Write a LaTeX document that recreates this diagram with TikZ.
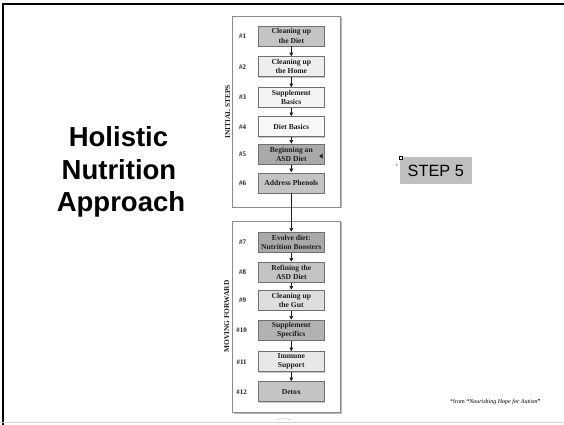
\documentclass[tikz,border=0pt]{standalone}
\usepackage{fontspec}
\setmainfont{Liberation Serif}
\newfontfamily\arial{Liberation Sans}
\usetikzlibrary{arrows.meta,shadows,calc}

\definecolor{frameline}{HTML}{000000}
\definecolor{panelline}{HTML}{8C8C8C}
\definecolor{stepline}{HTML}{707070}
\definecolor{steptext}{HTML}{1E1E1E}
\definecolor{toneA}{HTML}{A9A9A9}
\definecolor{toneB}{HTML}{B2B2B2}
\definecolor{toneC}{HTML}{C4C4C4}
\definecolor{toneD}{HTML}{DEDEDE}
\definecolor{toneE}{HTML}{E8E8E8}
\definecolor{toneF}{HTML}{EEEEEE}
\definecolor{toneG}{HTML}{F4F4F4}
\definecolor{stepfive}{HTML}{BFBFBF}

\tikzset{
  panel/.style={draw=panelline, line width=0.8pt, fill=white,
    drop shadow={shadow xshift=1.2pt, shadow yshift=-1.2pt, fill=gray!70, opacity=0.8}},
  stepbox/.style={draw=stepline, line width=0.6pt, minimum width=65.3pt,
    minimum height=20pt, inner sep=0pt, align=center, text=steptext,
    font=\bfseries\fontsize{7.6}{9.2}\selectfont,
    drop shadow={shadow xshift=0.8pt, shadow yshift=-0.8pt, fill=gray!60, opacity=0.7}},
  numlabel/.style={font=\bfseries\fontsize{7}{8}\selectfont, text=steptext, inner sep=0pt},
  sidelabel/.style={font=\bfseries\fontsize{7.4}{8}\selectfont, text=steptext,
    rotate=90, inner sep=0pt},
  arr/.style={line width=0.5pt, draw=steptext,
    -{Triangle[length=3.5pt,width=3.6pt]}, shorten >=0.3pt},
  headline/.style={font=\arial\bfseries\fontsize{27.5}{32}\selectfont, anchor=base, inner sep=0pt},
}

\begin{document}
\begin{tikzpicture}[x=1pt,y=-1pt]
\useasboundingbox (0,0) rectangle (564,425);
\fill[white] (0,0) rectangle (564,425);

% slide frame
\draw[frameline, line width=2pt] (3,425) -- (3,4.3) -- (564,4.3);
\draw[gray!35, line width=1pt] (0,422.8) -- (564,422.8);

% title
\node[headline] (t1) at (118.5,146) {Holistic};
\node[headline] (t2) at (119,179) {Nutrition};
\node[headline] (t3) at (121,211.5) {Approach};

% two stage panels
\node[panel, minimum width=108pt, minimum height=191pt, inner sep=0pt] (pA) at (286.7,111.5) {};
\node[panel, minimum width=108pt, minimum height=191.5pt, inner sep=0pt] (pB) at (286.7,316.7) {};

\node[sidelabel] (la) at (227.6,112) {INITIAL STEPS};
\node[sidelabel] (lb) at (226.8,316.5) {MOVING FORWARD};

% steps
\node[stepbox, fill=toneC] (s1)  at (291.3,36)    {Cleaning up\\the Diet};
\node[stepbox, fill=toneF] (s2)  at (291.3,66.8)  {Cleaning up\\the Home};
\node[stepbox, fill=toneG] (s3)  at (291.3,97.7)  {Supplement\\Basics};
\node[stepbox, fill=toneG!60!white] (s4)  at (291.3,126.7) {Diet Basics};
\node[stepbox, fill=toneA] (s5)  at (291.3,154.3) {Beginning an\\ASD Diet};
\node[stepbox, fill=toneC] (s6)  at (291.3,182.8) {Address Phenols};
\node[stepbox, fill=toneA] (s7)  at (291.3,242.2) {Evolve diet:\\Nutrition Boosters};
\node[stepbox, fill=toneC] (s8)  at (291.3,272.2) {Refining the\\ASD Diet};
\node[stepbox, fill=toneD] (s9)  at (291.3,300.3) {Cleaning up\\the Gut};
\node[stepbox, fill=toneB] (s10) at (291.3,330.3) {Supplement\\Specifics};
\node[stepbox, fill=toneE] (s11) at (291.3,361.7) {Immune\\Support};
\node[stepbox, fill=toneC] (s12) at (291.3,391.7) {Detox};

% step numbers
\node[numlabel] (n1)  at (242.6,36)    {\#1};
\node[numlabel] (n2)  at (242.6,66.8)  {\#2};
\node[numlabel] (n3)  at (242.6,97.7)  {\#3};
\node[numlabel] (n4)  at (242.6,126.7) {\#4};
\node[numlabel] (n5)  at (242.6,154.3) {\#5};
\node[numlabel] (n6)  at (242.6,182.8) {\#6};
\node[numlabel] (n7)  at (242.6,242.2) {\#7};
\node[numlabel] (n8)  at (242.6,272.2) {\#8};
\node[numlabel] (n9)  at (242.6,300.3) {\#9};
\node[numlabel] (n10) at (241.6,330.3) {\#10};
\node[numlabel] (n11) at (241.6,361.7) {\#11};
\node[numlabel] (n12) at (241.6,391.7) {\#12};

% flow arrows
\foreach \a/\b in {s1/s2,s2/s3,s3/s4,s4/s5,s5/s6,s6/s7,s7/s8,s8/s9,s9/s10,s10/s11,s11/s12}
  \draw[arr] (\a.south) -- (\b.north);

% marker inside step 5
\fill[steptext] ($(s5.east)+(-1.6,-0.8)$) -- ($(s5.east)+(-5,1.8)$) -- ($(s5.east)+(-1.6,4.4)$) -- cycle;

% faint mark under the lower panel
\draw[gray!40, line width=0.6pt] (276,419.8) .. controls (283,418.2) .. (291,419.8);

% step 5 callout
\node[fill=stepfive, minimum width=71.7pt, minimum height=27pt, inner sep=0pt,
      font=\arial\fontsize{16.3}{18}\selectfont] (st) at (435.8,170.8) {STEP 5};
\node[draw=black, fill=white, line width=0.5pt, minimum size=3pt, inner sep=0pt] (sq) at (400.5,157.5) {};
\node[font=\arial\fontsize{9}{10}\selectfont, inner sep=0pt] (tick) at (396.8,168) {`};

% source note
\node[anchor=base west, inner sep=0pt, font=\fontsize{6}{7}\selectfont] (src) at (450,403.3)
  {*from \textbf{“}\textit{Nourishing Hope for Autism}\textbf{”}};
\end{tikzpicture}
\end{document}
